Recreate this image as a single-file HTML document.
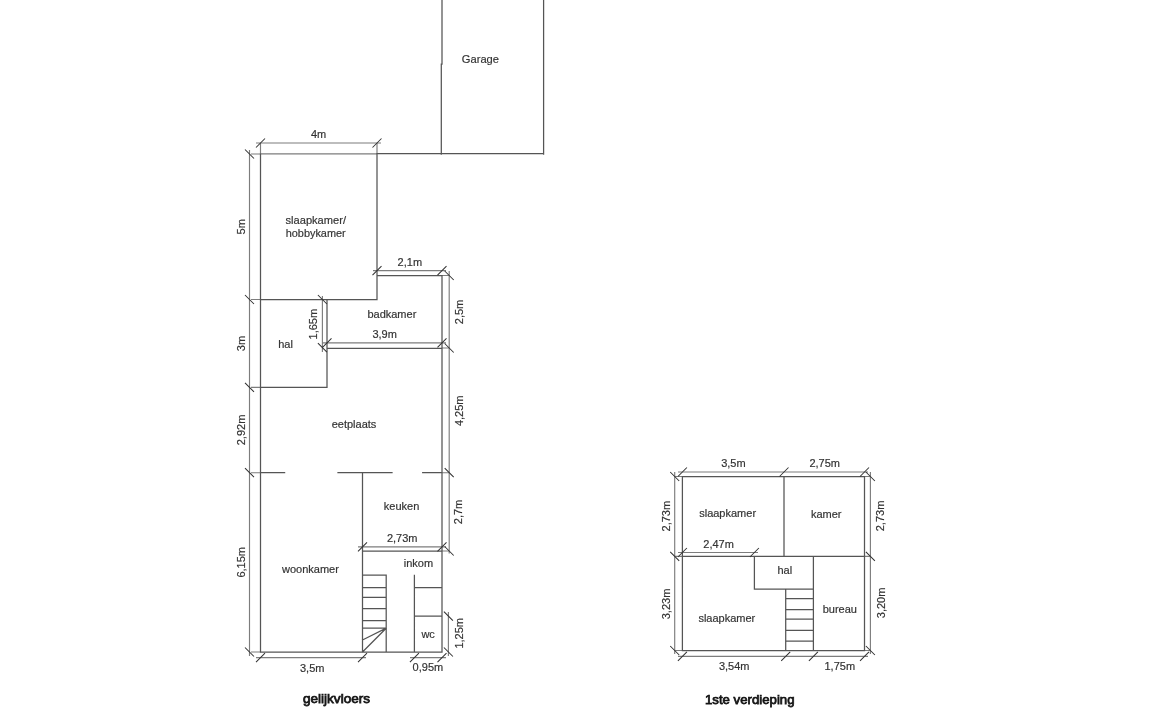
<!DOCTYPE html><html><head><meta charset="utf-8"><style>html,body{margin:0;padding:0;background:#fff;}svg{display:block;will-change:transform;}text{font-family:"Liberation Sans",sans-serif;stroke:#333;stroke-width:0.18px;}</style></head><body>
<svg width="1152" height="727" viewBox="0 0 1152 727">
<rect width="1152" height="727" fill="#fff"/>
<path d="M260.5 153.8L377 153.8M256 143L381 143M260.5 143L260.5 154M377 143L377 154M249.5 150L249.5 656M251 154L260.5 154M251 299.5L260.5 299.5M251 387.3L260.5 387.3M251 472.7L260.5 472.7M251 652L260.5 652M373 270.6L446 270.6M449.2 271L449.2 553.5M442 275.5L449.2 275.5M442 348L449.2 348M442 472.7L449.2 472.7M442 551L449.2 551M448.4 612L448.4 656M322.4 296L322.4 352M323 342.9L446 342.9M358 546.8L446 546.8M256 657.6L366 657.6M410 657.6L446 657.6M678 472L868 472M674.7 472L674.7 654M870.4 472L870.4 654M674.7 476.5L682.4 476.5M864.5 476.5L870.4 476.5M674.7 556.3L682.4 556.3M864.5 556.3L870.4 556.3M674.7 650.5L682.4 650.5M864.5 650.5L870.4 650.5M678 552.5L758 552.5M678 656.4L868 656.4" stroke="#7d7d7d" stroke-width="1.15" fill="none"/>
<path d="M442 0L442 64M441.3 64L441.3 154M543.6 0L543.6 154M377 153.6L543.6 153.6M260.5 154L260.5 652M377 154L377 299.5M260.5 299.5L377 299.5M377 275.5L442 275.5M442 275.5L442 652M327 299.5L327 387.3M260.5 387.3L327 387.3M327 348.4L442 348.4M260.5 472.7L284.6 472.7M338 472.7L392 472.7M422.7 472.7L442 472.7M362.5 472.7L362.5 652M362.5 551L442 551M386.2 575L386.2 652M362.5 575L386.2 575M362.5 587.5L386.2 587.5M362.5 597.4L386.2 597.4M362.5 608.6L386.2 608.6M362.5 620.5L386.2 620.5M362.5 628.2L386.2 628.2M386.2 628.2L362.5 640M386.2 628.2L362.5 652M414.4 575.4L414.4 652M414.4 587.5L442 587.5M414.4 616.1L442 616.1M260.5 652L442 652M682.4 476.5L864.5 476.5M682.4 650.5L864.5 650.5M682.4 476.5L682.4 650.5M864.5 476.5L864.5 650.5M784 476.5L784 556.3M682.4 556.3L864.5 556.3M754.4 556.3L754.4 589M754.4 589L813.4 589M813.4 556.3L813.4 650.5M785.7 589L785.7 650.5M785.7 598.5L813.4 598.5M785.7 609.5L813.4 609.5M785.7 619L813.4 619M785.7 630.4L813.4 630.4M785.7 641L813.4 641" stroke="#555" stroke-width="1.25" fill="none" stroke-linecap="square"/>
<path d="M256.0 147.5L265.0 138.5M372.5 147.5L381.5 138.5M245.0 149.5L254.0 158.5M245.0 295.0L254.0 304.0M245.0 382.8L254.0 391.8M245.0 468.2L254.0 477.2M245.0 647.5L254.0 656.5M372.5 275.1L381.5 266.1M437.5 275.1L446.5 266.1M444.7 271.0L453.7 280.0M444.7 343.5L453.7 352.5M444.7 468.2L453.7 477.2M444.7 546.5L453.7 555.5M443.9 611.6L452.9 620.6M443.9 647.5L452.9 656.5M317.9 295.0L326.9 304.0M317.9 343.2L326.9 352.2M322.5 347.4L331.5 338.4M437.5 347.4L446.5 338.4M358.0 551.3L367.0 542.3M437.5 551.3L446.5 542.3M256.0 662.1L265.0 653.1M358.0 662.1L367.0 653.1M409.9 662.1L418.9 653.1M437.5 662.1L446.5 653.1M677.9 476.5L686.9 467.5M779.5 476.5L788.5 467.5M860.0 476.5L869.0 467.5M670.2 472.0L679.2 481.0M865.9 472.0L874.9 481.0M670.2 551.8L679.2 560.8M865.9 551.8L874.9 560.8M670.2 646.0L679.2 655.0M865.9 646.0L874.9 655.0M677.9 557.0L686.9 548.0M749.9 557.0L758.9 548.0M677.9 660.9L686.9 651.9M781.2 660.9L790.2 651.9M808.9 660.9L817.9 651.9M860.0 660.9L869.0 651.9" stroke="#333" stroke-width="1.05" fill="none"/>
<text x="461.8" y="62.8" font-size="11.8" fill="#333" textLength="37.2" lengthAdjust="spacingAndGlyphs">Garage</text>
<text x="311" y="138" font-size="11" fill="#333">4m</text>
<text x="285.5" y="223.5" font-size="11.2" fill="#333" textLength="60.5" lengthAdjust="spacingAndGlyphs">slaapkamer/</text>
<text x="285.7" y="236.5" font-size="11.2" fill="#333" textLength="60" lengthAdjust="spacingAndGlyphs">hobbykamer</text>
<text x="397.6" y="266" font-size="11" fill="#333">2,1m</text>
<text x="367.4" y="318" font-size="11" fill="#333">badkamer</text>
<text x="372.4" y="338.3" font-size="11" fill="#333">3,9m</text>
<text x="278.2" y="347.7" font-size="11" fill="#333">hal</text>
<text transform="translate(459 312) rotate(-90)" x="0" y="3.96" text-anchor="middle" font-size="11" fill="#333">2,5m</text>
<text transform="translate(313.3 324.2) rotate(-90)" x="0" y="3.96" text-anchor="middle" font-size="11" fill="#333">1,65m</text>
<text transform="translate(241.5 343.5) rotate(-90)" x="0" y="3.96" text-anchor="middle" font-size="11" fill="#333">3m</text>
<text transform="translate(240.9 226.8) rotate(-90)" x="0" y="3.96" text-anchor="middle" font-size="11" fill="#333">5m</text>
<text x="331.7" y="427.5" font-size="11" fill="#333">eetplaats</text>
<text transform="translate(241.5 430) rotate(-90)" x="0" y="3.96" text-anchor="middle" font-size="11" fill="#333">2,92m</text>
<text transform="translate(459.2 410.8) rotate(-90)" x="0" y="3.96" text-anchor="middle" font-size="11" fill="#333">4,25m</text>
<text x="383.8" y="510" font-size="11" fill="#333">keuken</text>
<text transform="translate(458.5 512) rotate(-90)" x="0" y="3.96" text-anchor="middle" font-size="11" fill="#333">2,7m</text>
<text x="386.9" y="542" font-size="11" fill="#333">2,73m</text>
<text x="403.8" y="566.6" font-size="11" fill="#333">inkom</text>
<text x="282" y="573" font-size="11" fill="#333">woonkamer</text>
<text transform="translate(241.2 562.3) rotate(-90)" x="0" y="3.96" text-anchor="middle" font-size="11" fill="#333">6,15m</text>
<text x="421.4" y="637.7" font-size="11" fill="#333">wc</text>
<text transform="translate(458.8 633.3) rotate(-90)" x="0" y="3.96" text-anchor="middle" font-size="11" fill="#333">1,25m</text>
<text x="300" y="671.5" font-size="11" fill="#333">3,5m</text>
<text x="412.6" y="671.3" font-size="11" fill="#333">0,95m</text>
<text x="303" y="703" font-size="12.6" fill="#151515" style="stroke:#151515;stroke-width:0.75px" textLength="67" lengthAdjust="spacingAndGlyphs">gelijkvloers</text>
<text x="721.2" y="467.3" font-size="11" fill="#333">3,5m</text>
<text x="809.4" y="467" font-size="11" fill="#333">2,75m</text>
<text x="699.2" y="517" font-size="11" fill="#333">slaapkamer</text>
<text x="810.9" y="518" font-size="11" fill="#333">kamer</text>
<text transform="translate(666.3 516.2) rotate(-90)" x="0" y="3.96" text-anchor="middle" font-size="11" fill="#333">2,73m</text>
<text transform="translate(880.4 516) rotate(-90)" x="0" y="3.96" text-anchor="middle" font-size="11" fill="#333">2,73m</text>
<text x="703.3" y="548" font-size="11" fill="#333">2,47m</text>
<text x="777.4" y="574.2" font-size="11" fill="#333">hal</text>
<text x="698.4" y="621.6" font-size="11" fill="#333">slaapkamer</text>
<text x="822.7" y="612.8" font-size="11" fill="#333">bureau</text>
<text transform="translate(666.3 604) rotate(-90)" x="0" y="3.96" text-anchor="middle" font-size="11" fill="#333">3,23m</text>
<text transform="translate(881 602.9) rotate(-90)" x="0" y="3.96" text-anchor="middle" font-size="11" fill="#333">3,20m</text>
<text x="718.9" y="669.5" font-size="11" fill="#333">3,54m</text>
<text x="824.5" y="669.5" font-size="11" fill="#333">1,75m</text>
<text x="705" y="704.2" font-size="12.6" fill="#151515" style="stroke:#151515;stroke-width:0.75px" textLength="89.5" lengthAdjust="spacingAndGlyphs">1ste verdieping</text>
</svg></body></html>
